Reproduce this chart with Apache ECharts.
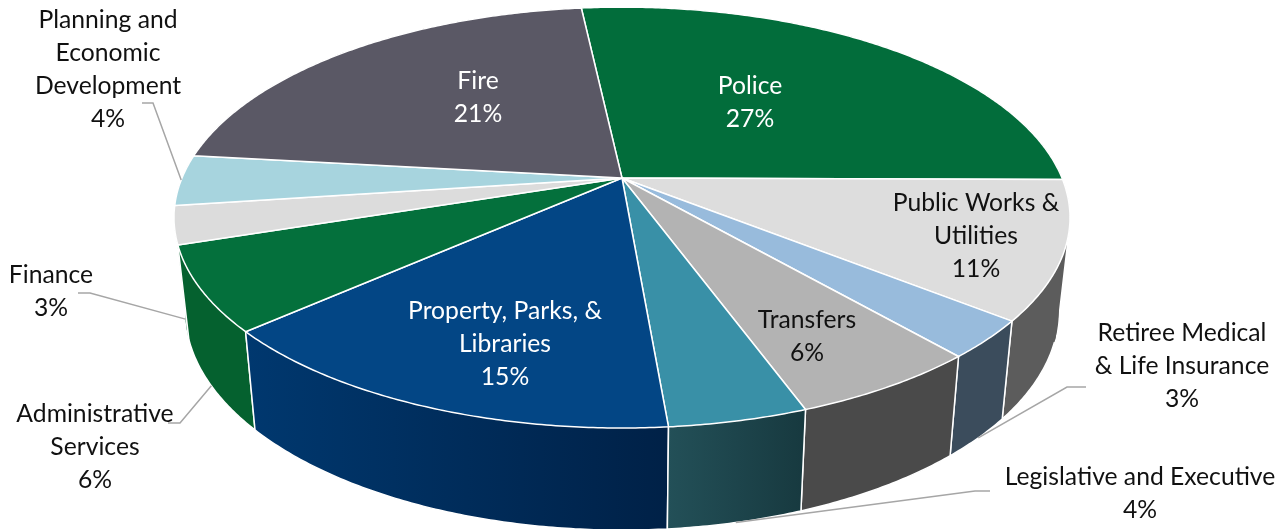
<!DOCTYPE html>
<html>
<head>
<meta charset="utf-8">
<style>
    html, body { margin: 0; padding: 0; background: #fff; }
    #chart { width: 1286px; height: 529px; }
</style>
<script src="https://cdn.jsdelivr.net/npm/echarts@6/dist/echarts.min.js"></script>
</head>
<body>
<div id="chart"></div>
<script>
// clockwise from the Police slice
const categories = ['Police', 'Public Works &\nUtilities', 'Retiree Medical\n& Life Insurance', 'Transfers',
    'Legislative and Executive', 'Property, Parks, &\nLibraries', 'Administrative\nServices', 'Finance',
    'Planning and\nEconomic\nDevelopment', 'Fire'];
const shares = [26.8, 10.55, 2.9, 5.8, 4.2, 14.8, 6.49, 2.9, 3.9, 21.4];

const topColors = ['#026d3b', '#dddddd', '#98bbdc', '#b3b3b3', '#3990a7', '#034685', '#04703c', '#dcdcdc', '#a7d4de', '#5a5865'];
const sideColors = ['#02582f', '#5c5c5c', '#3b4c5c', '#4a4a4a', ['#235058', '#17393f'], ['#00386f', '#002147'], '#05612f', '#066a38', '#6c8a90', '#3c3b44'];
const labelColors = ['#fff', '#111', '#111', '#111', '#111', '#fff', '#111', '#111', '#111', '#fff'];

// label centre x, first line centre y
const labelAnchors = [[750, 86], [976, 203], [1182, 333], [807, 320], [1140, 477], [505, 311], [95, 414], [51, 275], [108, 20], [478, 81]];
// leader lines: start, elbow; the tip comes from the slice itself
const leaders = {
    2: { from: [1086, 387], elbow: [1067, 387], onBottom: true },
    4: { from: [990, 491], elbow: [975, 491], onBottom: true },
    6: { from: [168, 423], elbow: [180, 423], onBottom: true },
    7: { from: [78, 293], elbow: [90, 293], onBottom: true },
    8: { from: [142, 103], elbow: [153, 103], onBottom: false }
};

// perspective of the tilted disc
const startAngle = -6.3;
const cx = 622, cy = 178, radiusX = 440, radiusY = 203, tilt = 0.188;
const bottomScale = 0.975, bottomSlope = 1.04, bottomShift = 85;
// part of the rim facing the viewer, where the white edges show
const rimFrom = 108.7, rimTo = 252.5;

const total = shares.reduce((a, b) => a + b, 0);
const toAngle = (v) => echarts.number.linearMap(v, [0, total], [startAngle, startAngle + 360]);
const cumulative = shares.map((_, i) => shares.slice(0, i).reduce((a, b) => a + b, 0));
const range = (i) => [toAngle(cumulative[i]), toAngle(cumulative[i] + shares[i])];

function topPoint(angle) {
    const rad = angle * Math.PI / 180;
    const u = Math.sin(rad), v = -Math.cos(rad);
    const w = 1 - tilt * v;
    return [cx + radiusX * u / w, cy + radiusY * v / w];
}
function bottomPoint(angle) {
    const p = topPoint(angle);
    return [cx + (p[0] - cx) * bottomScale, p[1] * bottomSlope + bottomShift];
}
function arc(fn, a0, a1) {
    const n = Math.max(2, Math.ceil(Math.abs(a1 - a0) * 2));
    const pts = [];
    for (let i = 0; i <= n; i++) {
        pts.push(fn(a0 + (a1 - a0) * i / n));
    }
    return pts;
}
function sideFill(color, pts) {
    if (!Array.isArray(color)) return color;
    const xs = pts.map(p => p[0]);
    return new echarts.graphic.LinearGradient(Math.min(...xs), 0, Math.max(...xs), 0, [
        { offset: 0, color: color[0] }, { offset: 1, color: color[1] }
    ], true);
}
// split a wall where the rim turns away, so that the straight silhouette edge gets filled
function wallParts(r) {
    const parts = [];
    let from = r[0];
    [rimFrom, rimTo].forEach((cut) => {
        if (cut > from && cut < r[1]) {
            parts.push([from, cut]);
            from = cut - 1.5;
        }
    });
    parts.push([from, r[1]]);
    return parts;
}

// walls are painted far to near, so the ones next to the silhouette end up hidden
const wallOrder = shares.map((_, i) => i).sort((a, b) => {
    const d = (i) => { const r = range(i); return Math.abs((r[0] + r[1]) / 2 - 180); };
    return d(b) - d(a);
});

const option = {
    animation: false,
    series: [
        {
            type: 'custom',
            coordinateSystem: 'none',
            silent: true,
            z: 1,
            data: wallOrder.map(i => shares[i]),
            renderItem(params) {
                const i = wallOrder[params.dataIndex];
                const r = range(i);
                const fill = sideFill(sideColors[i], arc(topPoint, r[0], r[1]).concat(arc(bottomPoint, r[0], r[1])));
                const children = wallParts(r).map((part) => ({
                    type: 'polygon',
                    shape: { points: arc(topPoint, part[0], part[1]).concat(arc(bottomPoint, part[1], part[0])) },
                    style: { fill: fill }
                }));
                const from = Math.max(r[0], rimFrom), to = Math.min(r[1], rimTo);
                if (from < to) {
                    let edge = arc(bottomPoint, from, to);
                    if (r[0] >= rimFrom) edge = [topPoint(r[0])].concat(edge);
                    if (r[1] <= rimTo) edge = edge.concat([topPoint(r[1])]);
                    children.push({
                        type: 'polyline',
                        shape: { points: edge },
                        style: { fill: null, stroke: '#fff', lineWidth: 1.5, lineJoin: 'round' }
                    });
                }
                return { type: 'group', children: children };
            }
        },
        {
            type: 'custom',
            coordinateSystem: 'none',
            silent: true,
            z: 2,
            data: shares,
            renderItem(params) {
                const r = range(params.dataIndex);
                const pts = [[cx, cy]].concat(arc(topPoint, r[0], r[1]));
                return {
                    type: 'polygon',
                    shape: { points: pts },
                    style: { fill: topColors[params.dataIndex], stroke: '#fff', lineWidth: 1.5, lineJoin: 'round' }
                };
            }
        },
        {
            type: 'custom',
            coordinateSystem: 'none',
            silent: true,
            z: 3,
            data: shares,
            renderItem(params) {
                const i = params.dataIndex;
                const children = [];
                const lead = leaders[i];
                if (lead) {
                    const r = range(i);
                    const mid = (r[0] + r[1]) / 2;
                    const tip = lead.onBottom ? bottomPoint(mid) : topPoint(mid);
                    children.push({
                        type: 'polyline',
                        shape: { points: [lead.from, lead.elbow, tip] },
                        style: { fill: null, stroke: '#a6a6a6', lineWidth: 1.5 }
                    });
                }
                const text = categories[i] + '\n' + Math.round(shares[i]) + '%';
                children.push({
                    type: 'text',
                    style: {
                        text: text,
                        x: labelAnchors[i][0],
                        y: labelAnchors[i][1] - 16.5,
                        align: 'center',
                        verticalAlign: 'top',
                        fontFamily: 'Lato',
                        fontSize: 24.7,
                        lineHeight: 33,
                        fill: labelColors[i]
                    }
                });
                return { type: 'group', children: children };
            }
        }
    ]
};

const myChart = echarts.init(document.getElementById('chart'));
myChart.setOption(option);
</script>
</body>
</html>
